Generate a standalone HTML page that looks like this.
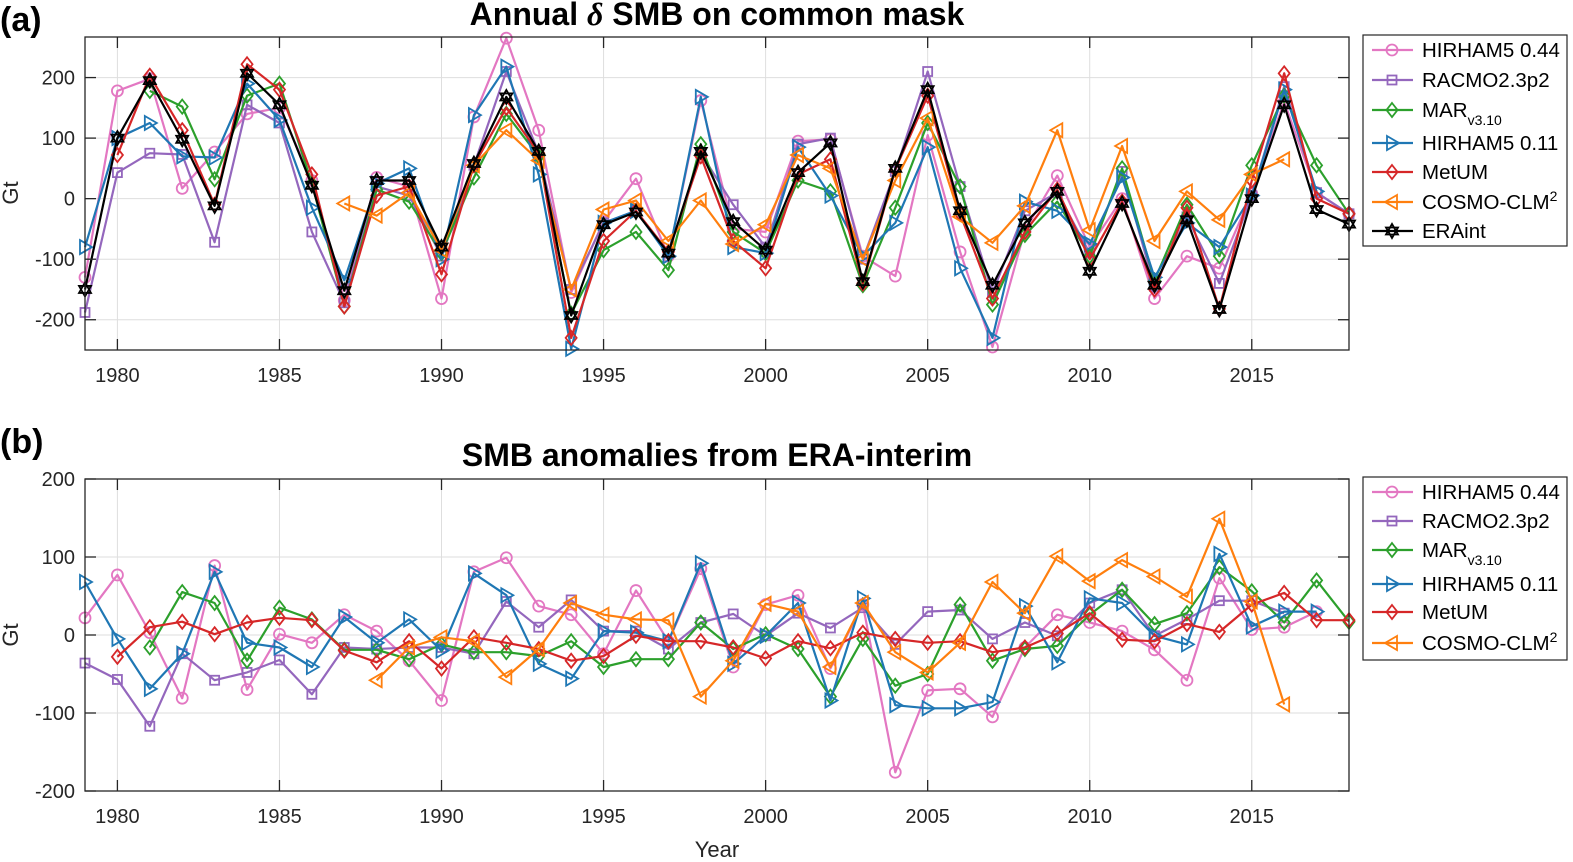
<!DOCTYPE html>
<html><head><meta charset="utf-8"><style>
html,body{margin:0;padding:0;background:#fff;}
svg{display:block;font-family:"Liberation Sans",Arial,sans-serif;}
</style></head><body>
<svg id="chart" width="1573" height="862" viewBox="0 0 1573 862" xmlns="http://www.w3.org/2000/svg"></svg>
<script>
const years = [];
for (let y = 1979; y <= 2018; y++) years.push(y);
const _ = null;
// Panel (a): annual SMB (Gt)
const aHirham44 = [-130,178,198,17,77,140,150,30,-168,35,20,-165,135,265,113,-155,-38,33,-95,162,-50,-55,95,98,-95,-128,105,-88,-245,-52,38,-80,0,-165,-95,-115,8,160,10,-25];
const aRacmo = [-188,43,75,73,-72,155,125,-55,-172,20,5,-95,55,210,75,-150,-40,-20,-90,75,-10,-80,90,100,-100,45,210,20,-155,-20,10,-90,45,-145,-30,-140,5,185,10,-25];
const aMar = [_,_,178,152,32,170,190,25,-178,15,-5,-90,35,140,70,-190,-85,-55,-118,90,-55,-90,30,12,-143,-15,125,20,-175,-60,-5,-95,50,-135,-10,-95,55,170,55,-25];
const aHirham11 = [-80,100,125,70,68,190,130,-15,-135,25,50,-100,138,218,40,-248,-40,-20,-95,168,-80,-90,85,5,-95,-40,85,-115,-230,-5,-20,-75,35,-130,-40,-80,5,180,12,_];
const aMetum = [_,72,203,113,-10,222,180,40,-178,5,20,-125,55,150,75,-230,-70,-20,-88,70,-70,-115,40,65,-140,48,170,-25,-165,-55,15,-100,-5,-150,-15,-182,30,207,0,-25];
const aCosmo = [_,_,_,_,_,_,_,_,-8,-28,10,-85,55,113,63,-150,-18,-3,-70,-3,-75,-43,72,50,-100,30,133,-30,-73,-12,113,-52,87,-70,12,-35,40,65,_,_];
const aEra = [-150,100,195,98,-12,207,155,22,-152,30,30,-80,58,168,78,-193,-43,-22,-90,78,-38,-85,43,92,-137,50,180,-20,-143,-40,12,-120,-8,-143,-35,-183,0,155,-18,-42];
// Panel (b): anomalies from ERA-interim (Gt)
const bHirham44 = [22,77,3,-81,89,-70,1,-10,26,5,-33,-84,81,99,37,26,-24,57,-8,85,-41,39,51,-43,39,-176,-71,-69,-105,-16,26,16,5,-19,-58,73,7,10,30,_];
const bRacmo = [-36,-57,-117,-24,-58,-48,-32,-76,-16,-18,-16,-16,-24,43,10,45,5,5,-18,16,27,-1,28,9,35,-12,30,32,-5,16,-1,41,58,-1,20,44,44,28,_,_];
const bMar = [_,_,-16,55,41,-33,35,20,-19,-19,-31,-12,-22,-22,-27,-8,-41,-31,-31,16,-18,1,-18,-79,-5,-65,-50,39,-33,-18,-14,26,58,14,28,87,56,16,70,17];
const bHirham11 = [68,-5,-69,-24,81,-10,-16,-41,23,-10,20,-20,79,51,-37,-56,5,3,-8,92,-37,-1,41,-84,47,-90,-94,-94,-86,37,-35,47,41,-1,-12,104,11,30,30,_];
const bMetum = [_,-28,10,17,1,16,22,19,-20,-35,-8,-43,-3,-10,-18,-33,-27,-1,-8,-8,-16,-30,-8,-17,3,-5,-10,-8,-22,-16,2,28,-6,-8,14,4,39,54,19,19];
const bCosmo = [_,_,_,_,_,_,_,_,_,-58,-16,-3,-8,-54,-18,41,26,20,19,-79,-33,40,30,-41,41,-22,-48,-10,68,28,101,69,96,75,49,149,43,-89,_,_];
const xTicks = [1980,1985,1990,1995,2000,2005,2010,2015];
const aYTicks = [-200,-100,0,100,200];
const bYTicks = [-200,-100,0,100,200];

const NS = "http://www.w3.org/2000/svg";
const svg = document.getElementById('chart');
function mk(tag, attrs, parent) {
  const e = document.createElementNS(NS, tag);
  for (const k in attrs) e.setAttribute(k, attrs[k]);
  (parent || svg).appendChild(e);
  return e;
}
const COL = {pink:'#e377c2', purple:'#9467bd', green:'#2ca02c', blue:'#1f77b4', red:'#d62728', orange:'#ff7f0e', black:'#000000'};

function marker(g, shape, x, y, c) {
  let e;
  const sw = 1.8;
  if (shape === 'circle') e = mk('circle', {cx:x, cy:y, r:5.5, fill:'none', stroke:c, 'stroke-width':sw}, g);
  else if (shape === 'square') e = mk('rect', {x:x-4.5, y:y-4.5, width:9, height:9, fill:'none', stroke:c, 'stroke-width':sw}, g);
  else if (shape === 'diamond') e = mk('path', {d:`M${x} ${y-7}L${x+5.5} ${y}L${x} ${y+7}L${x-5.5} ${y}Z`, fill:'none', stroke:c, 'stroke-width':sw}, g);
  else if (shape === 'tright') e = mk('path', {d:`M${x-5} ${y-7}L${x+7} ${y}L${x-5} ${y+7}Z`, fill:'none', stroke:c, 'stroke-width':sw}, g);
  else if (shape === 'tleft') e = mk('path', {d:`M${x+5} ${y-7}L${x-7} ${y}L${x+5} ${y+7}Z`, fill:'none', stroke:c, 'stroke-width':sw}, g);
  else if (shape === 'star') {
    e = mk('path', {d:`M${x} ${y-7}L${x+6} ${y+3.5}L${x-6} ${y+3.5}Z M${x} ${y+7}L${x+6} ${y-3.5}L${x-6} ${y-3.5}Z`, fill:'none', stroke:c, 'stroke-width':sw}, g);
  }
  
  
}

function panel(opt) {
  const {L, R, T, B, ymin, ymax, yTicks, series, prefix} = opt;
  const sx = v => L + (v - 1979) / (2018 - 1979) * (R - L);
  const sy = v => B - (v - ymin) / (ymax - ymin) * (B - T);
  const g = mk('g', {});
  
  
  xTicks.forEach(t => {
    const l = mk('line', {x1:sx(t), x2:sx(t), y1:T, y2:B, stroke:'#dedede', 'stroke-width':1}, g);
    
    
  });
  yTicks.forEach(t => {
    const l = mk('line', {x1:L, x2:R, y1:sy(t), y2:sy(t), stroke:'#dedede', 'stroke-width':1}, g);
    
    
  });
  series.forEach(s => {
    const sg = mk('g', {}, g);
    
    
    let d = '', pen = false;
    s.data.forEach((v, i) => {
      if (v === null) { pen = false; return; }
      d += (pen ? 'L' : 'M') + sx(years[i]).toFixed(1) + ' ' + sy(v).toFixed(1);
      pen = true;
    });
    const p = mk('path', {d:d, fill:'none', stroke:s.c, 'stroke-width':2.2, 'stroke-linejoin':'round'}, sg);
    
    
    s.data.forEach((v, i) => { if (v !== null) marker(sg, s.m, sx(years[i]), sy(v), s.c); });
  });
  const box = mk('rect', {x:L, y:T, width:R-L, height:B-T, fill:'none', stroke:'#262626', 'stroke-width':1.3}, g);
  
  
  xTicks.forEach(t => {
    mk('line', {x1:sx(t), x2:sx(t), y1:B, y2:B-11, stroke:'#262626', 'stroke-width':1.3}, g);
    mk('line', {x1:sx(t), x2:sx(t), y1:T, y2:T+11, stroke:'#262626', 'stroke-width':1.3}, g);
    const tx = mk('text', {x:sx(t), y:B+32, 'text-anchor':'middle', 'font-size':20, fill:'#262626'}, g);
    tx.textContent = t;
    
    
  });
  yTicks.forEach(t => {
    mk('line', {x1:L, x2:L+11, y1:sy(t), y2:sy(t), stroke:'#262626', 'stroke-width':1.3}, g);
    mk('line', {x1:R, x2:R-11, y1:sy(t), y2:sy(t), stroke:'#262626', 'stroke-width':1.3}, g);
    const tx = mk('text', {x:L-10, y:sy(t)+7, 'text-anchor':'end', 'font-size':20, fill:'#262626'}, g);
    tx.textContent = t;
    
    
  });
}

const serA = [
  {name:'hirham044', data:aHirham44, c:COL.pink, m:'circle'},
  {name:'racmo', data:aRacmo, c:COL.purple, m:'square'},
  {name:'mar', data:aMar, c:COL.green, m:'diamond'},
  {name:'hirham011', data:aHirham11, c:COL.blue, m:'tright'},
  {name:'metum', data:aMetum, c:COL.red, m:'diamond'},
  {name:'cosmo', data:aCosmo, c:COL.orange, m:'tleft'},
  {name:'eraint', data:aEra, c:COL.black, m:'star'}
];
const serB = [
  {name:'hirham044', data:bHirham44, c:COL.pink, m:'circle'},
  {name:'racmo', data:bRacmo, c:COL.purple, m:'square'},
  {name:'mar', data:bMar, c:COL.green, m:'diamond'},
  {name:'hirham011', data:bHirham11, c:COL.blue, m:'tright'},
  {name:'metum', data:bMetum, c:COL.red, m:'diamond'},
  {name:'cosmo', data:bCosmo, c:COL.orange, m:'tleft'}
];
panel({L:85, R:1349, T:37, B:350, ymin:-250, ymax:267, yTicks:aYTicks, series:serA, prefix:'panel-a'});
panel({L:85, R:1349, T:479, B:791, ymin:-200, ymax:200, yTicks:bYTicks, series:serB, prefix:'panel-b'});

function legend(x, y, w, h, items, prefix) {
  const g = mk('g', {});
  
  
  mk('rect', {x:x, y:y, width:w, height:h, fill:'#fff', stroke:'#262626', 'stroke-width':1.2}, g);
  items.forEach(it => {
    const eg = mk('g', {}, g);
    
    
    mk('line', {x1:x+9, x2:x+50, y1:it.y, y2:it.y, stroke:it.c, 'stroke-width':2.2}, eg);
    marker(eg, it.m, x+29, it.y, it.c);
    const t = mk('text', {x:x+59, y:it.y+7, 'font-size':20.5, fill:'#000'}, eg);
    t.innerHTML = it.label;
  });
}
const labs = ['HIRHAM5 0.44','RACMO2.3p2','MAR<tspan baseline-shift="sub" font-size="14">v3.10</tspan>','HIRHAM5 0.11','MetUM','COSMO-CLM<tspan baseline-shift="super" font-size="14">2</tspan>','ERAint'];
const la = serA.map((s, i) => ({c:s.c, m:s.m, label:labs[i], y:[50,80,110,143,172,202,231][i]}));
legend(1363, 35, 204, 211, la, 'panel-a');
const lb = serB.map((s, i) => ({c:s.c, m:s.m, label:labs[i], y:[492,521,550,584,612,643][i]}));
legend(1363, 477, 204, 183, lb, 'panel-b');

function txt(x, y, s, attrs, name) {
  const t = mk('text', Object.assign({x:x, y:y}, attrs));
  t.innerHTML = s;
  
  
  return t;
}
txt(0, 31, '(a)', {'font-size':34, 'font-weight':'bold'}, 'panel-a-label');
txt(0, 453, '(b)', {'font-size':34, 'font-weight':'bold'}, 'panel-b-label');
txt(717, 25, 'Annual <tspan font-family="Liberation Serif" font-style="italic">δ</tspan> SMB on common mask', {'font-size':32, 'font-weight':'bold', 'text-anchor':'middle'}, 'panel-a-title');
txt(717, 466, 'SMB anomalies from ERA-interim', {'font-size':32, 'font-weight':'bold', 'text-anchor':'middle'}, 'panel-b-title');
txt(717, 857, 'Year', {'font-size':22, 'text-anchor':'middle', fill:'#262626'}, 'x-axis-title');
txt(0, 0, 'Gt', {'font-size':22, 'text-anchor':'middle', fill:'#262626', transform:'translate(18,193) rotate(-90)'}, 'panel-a-y-axis-title');
txt(0, 0, 'Gt', {'font-size':22, 'text-anchor':'middle', fill:'#262626', transform:'translate(18,635) rotate(-90)'}, 'panel-b-y-axis-title');
</script>
</body></html>
